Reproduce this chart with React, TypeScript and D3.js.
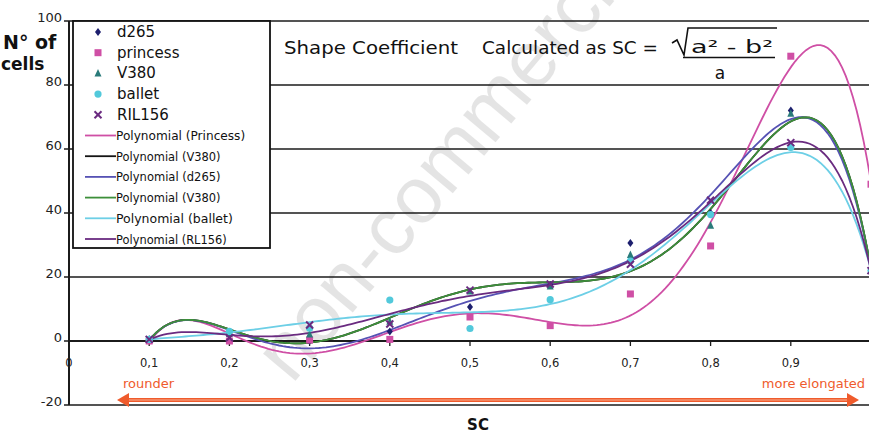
import React from "react";
import * as d3 from "d3";

// ---- data ----
const scValues = [0.1, 0.2, 0.3, 0.4, 0.5, 0.6, 0.7, 0.8, 0.9, 1.0];
const d265 = [0.5, 2, 0, 3, 10.6, 17.5, 30.6, 40, 72, 22];
const princess = [0, 0, 0.3, 0.5, 7.5, 4.8, 14.7, 29.7, 89, 49];
const v380 = [0.5, 2.2, 2, 6, 15.5, 17, 26.9, 36, 71, 22];
const ballet = [0.5, 3, 4, 12.8, 3.9, 12.9, 25, 39.5, 60.5, 22];
const ril156 = [0.5, 1, 5, 5.3, 15.9, 17.8, 24, 44, 62, 22];

const xTicks = [0, 0.1, 0.2, 0.3, 0.4, 0.5, 0.6, 0.7, 0.8, 0.9];
const xTickLabels = ["0", "0,1", "0,2", "0,3", "0,4", "0,5", "0,6", "0,7", "0,8", "0,9"];
const yTicks = [-20, 0, 20, 40, 60, 80, 100];

const trendOrder = 6;

// ---- helpers ----
function polyFit(xs: number[], ys: number[], order: number) {
  const c = 0.55, s = 0.45;
  const n = order + 1;
  const A: number[][] = Array.from({ length: n }, () => new Array(n).fill(0));
  const b: number[] = new Array(n).fill(0);
  xs.forEach((xv, k) => {
    const t = (xv - c) / s;
    const p: number[] = [];
    for (let i = 0; i < n; i++) p.push(Math.pow(t, i));
    for (let i = 0; i < n; i++) {
      b[i] += p[i] * ys[k];
      for (let j = 0; j < n; j++) A[i][j] += p[i] * p[j];
    }
  });
  for (let i = 0; i < n; i++) {
    let m = i;
    for (let r = i + 1; r < n; r++) if (Math.abs(A[r][i]) > Math.abs(A[m][i])) m = r;
    [A[i], A[m]] = [A[m], A[i]];
    [b[i], b[m]] = [b[m], b[i]];
    for (let r = i + 1; r < n; r++) {
      const f = A[r][i] / A[i][i];
      for (let j = i; j < n; j++) A[r][j] -= f * A[i][j];
      b[r] -= f * b[i];
    }
  }
  const coef = new Array(n).fill(0);
  for (let i = n - 1; i >= 0; i--) {
    let sum = b[i];
    for (let j = i + 1; j < n; j++) sum -= A[i][j] * coef[j];
    coef[i] = sum / A[i][i];
  }
  return (xv: number) => {
    const t = (xv - c) / s;
    let v = 0;
    for (let i = n - 1; i >= 0; i--) v = v * t + coef[i];
    return v;
  };
}

const W = 869, H = 435;
const x = d3.scaleLinear().domain([0, 1]).range([69, 871]);
const y = d3.scaleLinear().domain([-20, 100]).range([405, 21]);

const COL = {
  princess: "#cf4fa5",
  d265m: "#1d1f6e",
  d265l: "#5652b4",
  v380m: "#2a7b7a",
  v380l: "#3d8f3a",
  black: "#141414",
  balletm: "#52c9db",
  balletl: "#6dcfe6",
  ril: "#6a2b80",
  orange: "#ef5b2c",
};

const trends = [
  { name: "Polynomial (Princess)", data: princess, color: COL.princess },
  { name: "Polynomial (V380)", data: v380, color: COL.black },
  { name: "Polynomial (d265)", data: d265, color: COL.d265l },
  { name: "Polynomial (V380)", data: v380, color: COL.v380l },
  { name: "Polynomial (ballet)", data: ballet, color: COL.balletl },
  { name: "Polynomial (RL156)", data: ril156, color: COL.ril },
];

const seriesMarkers = [
  { name: "d265", data: d265, color: COL.d265m, shape: "diamond" },
  { name: "princess", data: princess, color: COL.princess, shape: "square" },
  { name: "V380", data: v380, color: COL.v380m, shape: "triangle" },
  { name: "ballet", data: ballet, color: COL.balletm, shape: "circle" },
  { name: "RIL156", data: ril156, color: COL.ril, shape: "x" },
];

function Marker({ shape, cx, cy, color }: { shape: string; cx: number; cy: number; color: string }) {
  if (shape === "diamond")
    return <path d={`M${cx},${cy - 4}L${cx + 3},${cy}L${cx},${cy + 4}L${cx - 3},${cy}Z`} fill={color} />;
  if (shape === "square") return <rect x={cx - 3.5} y={cy - 3.5} width={7} height={7} fill={color} />;
  if (shape === "triangle")
    return <path d={`M${cx},${cy - 4.5}L${cx + 3.5},${cy + 3}L${cx - 3.5},${cy + 3}Z`} fill={color} />;
  if (shape === "circle") return <circle cx={cx} cy={cy} r={3.6} fill={color} />;
  return (
    <g stroke={color} strokeWidth={2}>
      <line x1={cx - 3.5} y1={cy - 3.5} x2={cx + 3.5} y2={cy + 3.5} />
      <line x1={cx - 3.5} y1={cy + 3.5} x2={cx + 3.5} y2={cy - 3.5} />
    </g>
  );
}

const FONT = "'Comic Sans MS', 'DejaVu Sans', sans-serif";

export default function App() {
  const samples = d3.range(0, 201).map((i) => 0.1 + (0.9 * i) / 200);
  const legendX = 73, legendY = 21, legendW = 197, legendH = 227;

  return (
    <svg width={W} height={H} style={{ position: "absolute", left: 0, top: 0, background: "#fff" }}>
      <defs>
        <clipPath id="plotclip">
          <rect x={69} y={0} width={W - 69} height={410} />
        </clipPath>
      </defs>
      <rect width={W} height={H} fill="#fff" />

      {/* watermark */}
      <text
        x={292}
        y={385}
        transform="rotate(-50 292 385)"
        fontFamily="'Liberation Sans', sans-serif"
        fontSize={80}
        fill="#000"
        opacity={0.1}
      >
        non-commercial
      </text>

      {/* grid lines */}
      {yTicks.map((t) => (
        <line key={t} x1={x(0)} x2={W} y1={y(t)} y2={y(t)} stroke="#1b1b1b" strokeWidth={t === 0 ? 2 : 1.7} />
      ))}
      <line x1={x(0)} x2={x(0)} y1={y(100)} y2={y(-20)} stroke="#1b1b1b" strokeWidth={2} />
      {yTicks.map((t) => (
        <line key={"yt" + t} x1={x(0) - 5} x2={x(0)} y1={y(t)} y2={y(t)} stroke="#1b1b1b" strokeWidth={1.5} />
      ))}
      {yTicks.map((t) => (
        <text key={"yl" + t} x={x(0) - 7} y={y(t) + 1} textAnchor="end" fontFamily={FONT} fontSize={13} fill="#222">
          {t}
        </text>
      ))}
      {xTicks.map((t) => (
        <line key={"xt" + t} x1={x(t)} x2={x(t)} y1={y(0)} y2={y(0) + 5} stroke="#1b1b1b" strokeWidth={1.3} />
      ))}
      {xTicks.map((t, i) => (
        <text key={"xl" + t} x={x(t)} y={y(0) + 26} textAnchor="middle" fontFamily="'DejaVu Sans', sans-serif" fontSize={11.5} fill="#222">
          {xTickLabels[i]}
        </text>
      ))}

      {/* y title */}
      <text x={3} y={49} fontFamily={FONT} fontWeight="bold" fontSize={19} fill="#111">
        N° of
      </text>
      <text x={1} y={70} fontFamily={FONT} fontWeight="bold" fontSize={17} fill="#111">
        cells
      </text>

      {/* trendlines + markers */}
      <g clipPath="url(#plotclip)">
        {trends.map((tr, i) => {
          const f = polyFit(scValues, tr.data, trendOrder);
          const l = d3.line<number>().x((d) => x(d)).y((d) => y(f(d)));
          return <path key={i} d={l(samples) || ""} fill="none" stroke={tr.color} strokeWidth={1.8} />;
        })}
        {seriesMarkers.map((s) =>
          s.data.map((v, i) => (
            <Marker key={s.name + i} shape={s.shape} cx={x(scValues[i])} cy={y(v)} color={s.color} />
          ))
        )}
      </g>

      {/* legend */}
      <rect x={legendX} y={legendY} width={legendW} height={legendH} fill="#fff" stroke="#111" strokeWidth={1.8} />
      {seriesMarkers.map((s, i) => {
        const cy = 32 + i * 20.7;
        return (
          <g key={"lg" + i}>
            <Marker shape={s.shape} cx={98} cy={cy} color={s.color} />
            <text x={117} y={cy + 5} fontFamily={FONT} fontSize={15} fill="#111">
              {s.name}
            </text>
          </g>
        );
      })}
      {trends.map((tr, i) => {
        const cy = 32 + (i + 5) * 20.7;
        return (
          <g key={"lt" + i}>
            <line x1={85} x2={116} y1={cy} y2={cy} stroke={tr.color} strokeWidth={1.8} />
            <text x={116} y={cy + 4.5} fontFamily={FONT} fontSize={12.5} fill="#111" textLength={tr.name.length * 6.15} lengthAdjust="spacingAndGlyphs">
              {tr.name}
            </text>
          </g>
        );
      })}

      {/* title formula */}
      <text x={284} y={54} fontFamily={FONT} fontSize={17} fill="#111" textLength={174} lengthAdjust="spacingAndGlyphs">
        Shape Coefficient
      </text>
      <text x={482} y={54} fontFamily={FONT} fontSize={17} fill="#111" textLength={176} lengthAdjust="spacingAndGlyphs">
        Calculated as SC =
      </text>
      <path d="M672,43 L677,40 L684,55 L688,28 L777,28" fill="none" stroke="#111" strokeWidth={1.6} />
      <text x={691} y={53} fontFamily={FONT} fontSize={17} fill="#111" textLength={82} lengthAdjust="spacingAndGlyphs">
        a² - b²
      </text>
      <line x1={683} x2={775} y1={57.5} y2={57.5} stroke="#111" strokeWidth={1.6} />
      <text x={720} y={79} textAnchor="middle" fontFamily={FONT} fontSize={17} fill="#111">
        a
      </text>

      {/* arrow */}
      <line x1={126} x2={850} y1={400} y2={400} stroke={COL.orange} strokeWidth={4} />
      <line x1={126} x2={850} y1={400} y2={400} stroke="#f9b293" strokeWidth={1} />
      <path d="M117,400 L129,393 L129,407 Z" fill={COL.orange} />
      <path d="M859,400 L847,393 L847,407 Z" fill={COL.orange} />
      <text x={123} y={388} fontFamily={FONT} fontSize={13} fill={COL.orange}>
        rounder
      </text>
      <text x={865} y={388} textAnchor="end" fontFamily={FONT} fontSize={13} fill={COL.orange}>
        more elongated
      </text>

      <text x={478} y={430} textAnchor="middle" fontFamily={FONT} fontWeight="bold" fontSize={15} fill="#111">
        SC
      </text>
    </svg>
  );
}
